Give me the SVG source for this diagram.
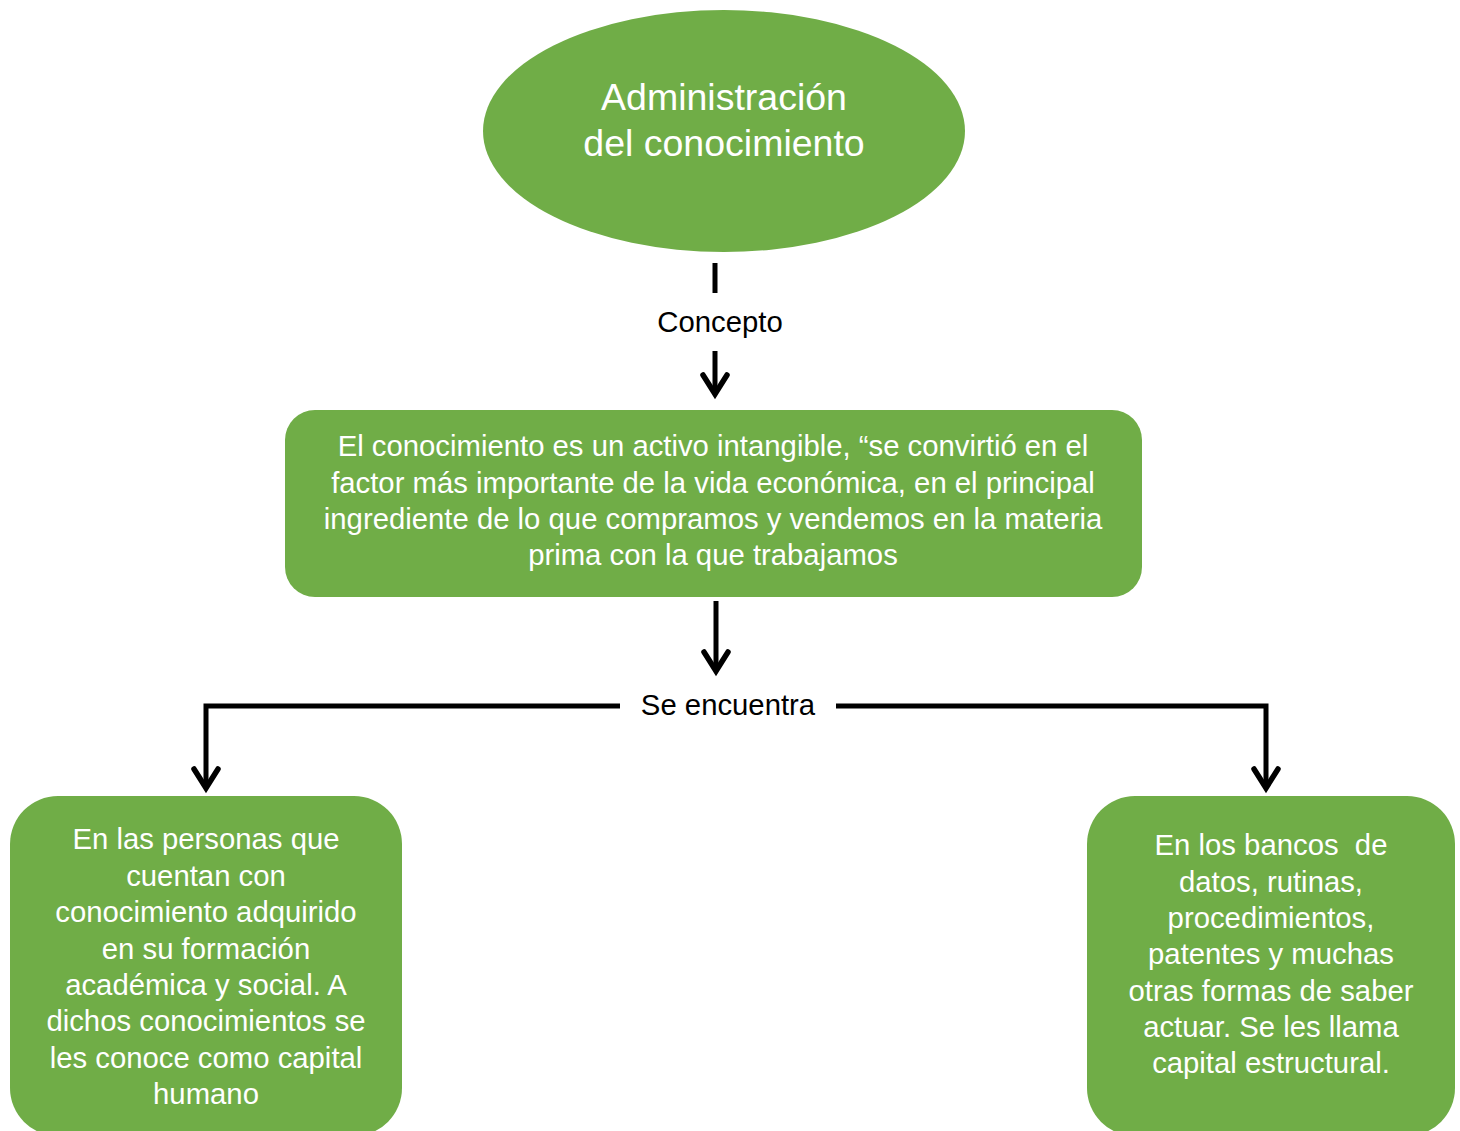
<svg xmlns="http://www.w3.org/2000/svg" width="1460" height="1131" viewBox="0 0 1460 1131">
<style>
.node{fill:#70AD47;}
.wt{fill:#ffffff;font-family:"Liberation Sans",Arial,sans-serif;font-size:29.3px;text-anchor:middle;}
.title{font-size:37.5px;}
.lbl{fill:#000000;font-family:"Liberation Sans",Arial,sans-serif;font-size:29.3px;text-anchor:middle;}
.ln{stroke:#000;stroke-width:5;fill:none;}
.hd{stroke:#000;stroke-width:5.5;fill:none;stroke-linecap:round;stroke-linejoin:miter;}
</style>
<rect width="1460" height="1131" fill="#ffffff"/>
<g id="connectors">
  <line class="ln" x1="715" y1="263" x2="715" y2="293"/>
  <text class="lbl" x="720" y="332">Concepto</text>
  <line class="ln" x1="715" y1="351" x2="715" y2="393"/>
  <polyline class="hd" points="703,375 715,394 727,375"/>
  <line class="ln" x1="716" y1="601" x2="716" y2="670"/>
  <polyline class="hd" points="704,652 716,671 728,652"/>
  <text class="lbl" x="728" y="715">Se encuentra</text>
  <polyline class="ln" points="620,706 206,706 206,787"/>
  <polyline class="hd" points="194,769 206,788 218,769"/>
  <polyline class="ln" points="836,706 1266,706 1266,787"/>
  <polyline class="hd" points="1254,769 1266,788 1278,769"/>
</g>
<g id="node-title">
  <ellipse class="node" cx="724" cy="131" rx="241" ry="121"/>
  <text class="wt title" x="724" y="110">Administración</text>
  <text class="wt title" x="724" y="156">del conocimiento</text>
</g>
<g id="node-concepto">
  <rect class="node" x="285" y="410" width="857" height="187" rx="30"/>
  <text class="wt" x="713" y="456">El conocimiento es un activo intangible, “se convirtió en el</text>
  <text class="wt" x="713" y="493">factor más importante de la vida económica, en el principal</text>
  <text class="wt" x="713" y="529">ingrediente de lo que compramos y vendemos en la materia</text>
  <text class="wt" x="713" y="565">prima con la que trabajamos</text>
</g>
<g id="node-personas">
  <rect class="node" x="10" y="796" width="392" height="340" rx="48"/>
  <text class="wt" x="206" y="849">En las personas que</text>
  <text class="wt" x="206" y="886">cuentan con</text>
  <text class="wt" x="206" y="922">conocimiento adquirido</text>
  <text class="wt" x="206" y="959">en su formación</text>
  <text class="wt" x="206" y="995">académica y social. A</text>
  <text class="wt" x="206" y="1031">dichos conocimientos se</text>
  <text class="wt" x="206" y="1068">les conoce como capital</text>
  <text class="wt" x="206" y="1104">humano</text>
</g>
<g id="node-bancos">
  <rect class="node" x="1087" y="796" width="368" height="340" rx="48"/>
  <text class="wt" x="1271" y="855" xml:space="preserve">En los bancos  de</text>
  <text class="wt" x="1271" y="892">datos, rutinas,</text>
  <text class="wt" x="1271" y="928">procedimientos,</text>
  <text class="wt" x="1271" y="964">patentes y muchas</text>
  <text class="wt" x="1271" y="1001">otras formas de saber</text>
  <text class="wt" x="1271" y="1037">actuar. Se les llama</text>
  <text class="wt" x="1271" y="1073">capital estructural.</text>
</g>
</svg>
